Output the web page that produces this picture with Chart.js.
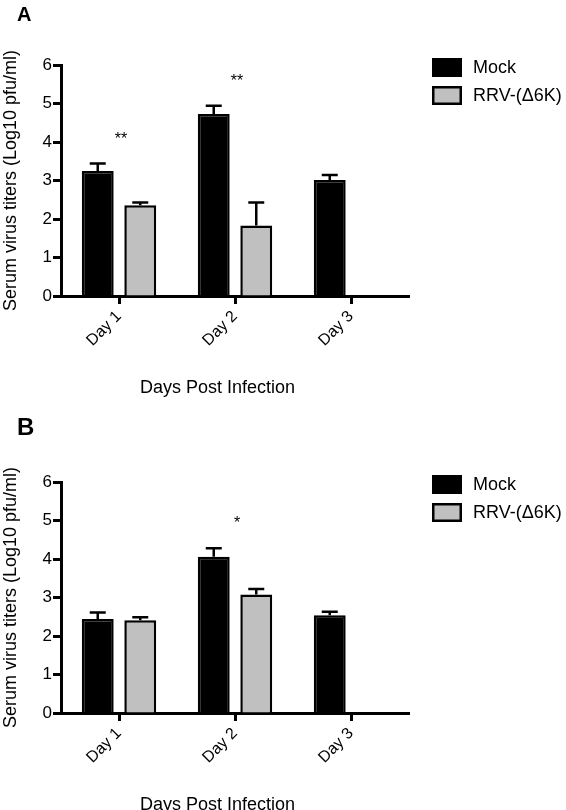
<!DOCTYPE html>
<html>
<head>
<meta charset="utf-8">
<script src="https://cdn.jsdelivr.net/npm/chart.js@4.4.1/dist/chart.umd.min.js"></script>
<style>
  html, body { margin: 0; padding: 0; background: #fff; width: 566px; height: 810px; overflow: hidden; }
  .panel { position: absolute; left: 0; width: 566px; height: 417px; }
</style>
</head>
<body>
<div class="panel" style="top:0"><canvas id="chartA" width="566" height="417"></canvas></div>
<div class="panel" style="top:417px"><canvas id="chartB" width="566" height="417"></canvas></div>
<script>
// data (log10 pfu/ml, mean and SEM)
var days = ['Day 1', 'Day 2', 'Day 3'];
var seriesNames = ['Mock', 'RRV-(\u03946K)'];

var mockA = [3.25, 4.73, 3.01];
var mockAErr = [0.19, 0.21, 0.13];
var rrvA = [2.36, 1.83, null];
var rrvAErr = [0.07, 0.60, null];
var sigA = ['**', '**', ''];

var mockB = [2.44, 4.06, 2.54];
var mockBErr = [0.17, 0.22, 0.09];
var rrvB = [2.41, 3.08, null];
var rrvBErr = [0.08, 0.14, null];
var sigB = ['', '*', ''];

var yTicks = [0, 1, 2, 3, 4, 5, 6];

var FONT = 'Arial, "Liberation Sans", sans-serif';
var GREY = '#c0c0c0';

Chart.defaults.font.family = FONT;
Chart.defaults.color = '#000';

// error bars (upper half only, the bar hides the rest)
var errorBars = {
    id: 'errorBars',
    afterDatasetsDraw: function(chart, args, opts) {
        var ctx = chart.ctx;
        var y = chart.scales.y;
        chart.data.datasets.forEach(function(ds, di) {
            var meta = chart.getDatasetMeta(di);
            var errs = opts.errors[di];
            meta.data.forEach(function(bar, i) {
                var v = ds.data[i], e = errs[i];
                if (v == null || e == null) return;
                var top = y.getPixelForValue(v + e);
                ctx.save();
                ctx.strokeStyle = '#000';
                ctx.lineWidth = 2.5;
                ctx.beginPath();
                ctx.moveTo(bar.x, bar.y);
                ctx.lineTo(bar.x, top);
                ctx.moveTo(bar.x - 8, top);
                ctx.lineTo(bar.x + 8, top);
                ctx.stroke();
                ctx.restore();
            });
        });
    }
};

// significance stars above each group
var stars = {
    id: 'stars',
    afterDatasetsDraw: function(chart, args, opts) {
        var ctx = chart.ctx;
        var x = chart.scales.x, y = chart.scales.y;
        var errs = chart.options.plugins.errorBars.errors;
        opts.marks.forEach(function(m, i) {
            if (!m) return;
            var hi = 0;
            chart.data.datasets.forEach(function(ds, di) {
                if (ds.data[i] != null) hi = Math.max(hi, ds.data[i] + (errs[di][i] || 0));
            });
            var cy = y.getPixelForValue(hi) - 29;
            ctx.save();
            ctx.font = '16px ' + FONT;
            ctx.fillStyle = '#000';
            ctx.textAlign = 'center';
            ctx.textBaseline = 'alphabetic';
            ctx.fillText(m, x.getPixelForValue(i) + 2, cy + 9);
            ctx.restore();
        });
    }
};

// legend at the right of the plot, plus the panel letter
var sideLegend = {
    id: 'sideLegend',
    afterDraw: function(chart, args, opts) {
        var ctx = chart.ctx;
        var area = chart.chartArea;
        var x0 = area.right + 23;
        var y0 = area.top - 7;
        ctx.save();
        chart.data.datasets.forEach(function(ds, di) {
            var by = y0 + di * 28;
            ctx.fillStyle = '#000';
            ctx.fillRect(x0, by, 30, 19);
            ctx.fillStyle = ds.backgroundColor;
            ctx.fillRect(x0 + 2.5, by + 2.5, 25, 14);
            ctx.fillStyle = '#000';
            ctx.font = '18px ' + FONT;
            ctx.textBaseline = 'middle';
            ctx.textAlign = 'left';
            ctx.fillText(ds.label, x0 + 41, by + 10);
        });
        ctx.font = 'bold ' + opts.size + 'px ' + FONT;
        ctx.textBaseline = 'alphabetic';
        ctx.fillText(opts.letter, 17, opts.baseline);
        ctx.restore();
    }
};

function makeChart(id, mock, mockErr, rrv, rrvErr, sig, letter, letterSize, letterBase)
{
    var ctx = document.getElementById(id).getContext('2d');
    return new Chart(ctx, {
        type: 'bar',
        data: {
            labels: days,
            datasets: [
                {
                    label: seriesNames[0],
                    data: mock,
                    backgroundColor: '#000',
                    borderColor: '#000',
                    borderWidth: 2.5
                },
                {
                    label: seriesNames[1],
                    data: rrv,
                    backgroundColor: GREY,
                    borderColor: '#000',
                    borderWidth: 2.5
                }
            ]
        },
        options: {
            responsive: false,
            animation: false,
            devicePixelRatio: 1,
            categoryPercentage: 0.733,
            barPercentage: 0.75,
            layout: { padding: { top: 65, right: 157, left: 0, bottom: 0 } },
            plugins: {
                legend: { display: false },
                tooltip: { enabled: false },
                errorBars: { errors: [mockErr, rrvErr] },
                stars: { marks: sig },
                sideLegend: { letter: letter, size: letterSize, baseline: letterBase }
            },
            scales: {
                x: {
                    offset: true,
                    grid: {
                        offset: false,
                        drawOnChartArea: false,
                        drawTicks: true,
                        tickLength: 8,
                        tickWidth: 3,
                        tickColor: '#000'
                    },
                    border: { display: true, color: '#000', width: 3 },
                    ticks: {
                        font: { size: 16 },
                        color: '#000',
                        minRotation: 45,
                        maxRotation: 45,
                        padding: 3
                    },
                    title: {
                        display: true,
                        text: 'Days Post Infection       ',
                        font: { size: 18 },
                        color: '#000',
                        padding: { top: 0, bottom: 18 }
                    },
                    afterFit: function(scale) { scale.height = 121; }
                },
                y: {
                    min: 0,
                    max: 6,
                    afterBuildTicks: function(scale) {
                        scale.ticks = yTicks.map(function(v) { return { value: v }; });
                    },
                    grid: {
                        drawOnChartArea: false,
                        drawTicks: true,
                        tickLength: 8,
                        tickWidth: 3,
                        tickColor: '#000'
                    },
                    border: { display: true, color: '#000', width: 3 },
                    ticks: {
                        font: { size: 17 },
                        color: '#000',
                        padding: 1
                    },
                    title: {
                        display: true,
                        text: 'Serum virus titers (Log10 pfu/ml)',
                        font: { size: 18 },
                        color: '#000',
                        padding: 0
                    },
                    afterFit: function(scale) { scale.width = 61; }
                }
            }
        },
        plugins: [errorBars, stars, sideLegend]
    });
}

makeChart('chartA', mockA, mockAErr, rrvA, rrvAErr, sigA, 'A', 20, 21);
makeChart('chartB', mockB, mockBErr, rrvB, rrvBErr, sigB, 'B', 24, 18);
</script>
</body>
</html>
